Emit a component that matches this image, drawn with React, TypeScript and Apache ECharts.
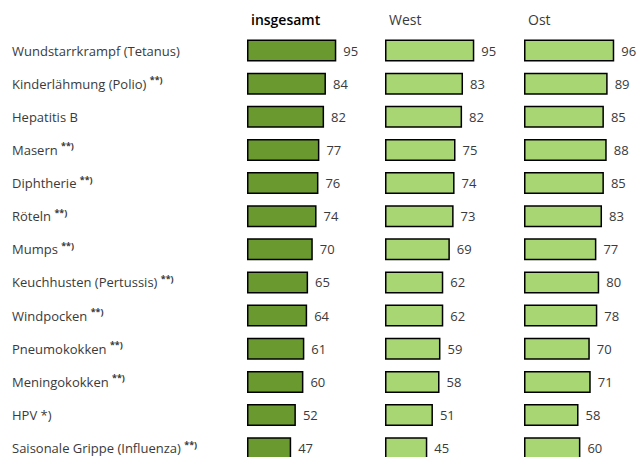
import React, { useEffect, useRef } from "react";
import * as echarts from "echarts";

const categories = [
  "Wundstarrkrampf (Tetanus)",
  "Kinderlähmung (Polio)",
  "Hepatitis B",
  "Masern",
  "Diphtherie",
  "Röteln",
  "Mumps",
  "Keuchhusten (Pertussis)",
  "Windpocken",
  "Pneumokokken",
  "Meningokokken",
  "HPV *)",
  "Saisonale Grippe (Influenza)",
];
const footnotes = ["", "**)", "", "**)", "**)", "**)", "**)", "**)", "**)", "**)", "**)", "", "**)"];
const insgesamt = [95, 84, 82, 77, 76, 74, 70, 65, 64, 61, 60, 52, 47];
const west = [95, 83, 82, 75, 74, 73, 69, 62, 62, 59, 58, 51, 45];
const ost = [96, 89, 85, 88, 85, 83, 77, 80, 78, 70, 71, 58, 60];
const headers = ["insgesamt", "West", "Ost"];

const FONT = "'Open Sans', sans-serif";
const TEXT = "#3a3a3a";

export default function App() {
  const ref = useRef<HTMLDivElement>(null);
  useEffect(() => {
    document.body.style.margin = "0";
    const chart = echarts.init(ref.current!, undefined, { renderer: "svg" });
    const lefts = [247, 385, 524];
    const seriesData = [insgesamt, west, ost];
    const colors = ["#6a9a2f", "#a8d672", "#a8d672"];
    const rowH = 33.14;
    const top = 50.5 - rowH / 2;
    const grids = lefts.map((l) => ({
      left: l,
      top,
      width: 94,
      height: rowH * categories.length,
      outerBoundsMode: "none",
      containLabel: false,
    }));
    const catLabels = categories.map((c, i) => (footnotes[i] ? `{a|${c} }{s|${footnotes[i]}}` : `{a|${c}}`));
    chart.setOption({
      animation: false,
      textStyle: { fontFamily: FONT },
      title: headers.map((h, i) => ({
        text: h,
        left: lefts[i] - 1,
        top: 7,
        textStyle: {
          fontFamily: FONT,
          fontSize: 14,
          fontWeight: i === 0 ? 600 : "normal",
          color: i === 0 ? "#000" : TEXT,
        },
      })),
      grid: grids,
      xAxis: lefts.map((_, i) => ({
        type: "value",
        gridIndex: i,
        min: 0,
        max: 100,
        show: false,
      })),
      yAxis: lefts.map((_, i) => ({
        type: "category",
        gridIndex: i,
        inverse: true,
        data: i === 0 ? catLabels : categories,
        axisLine: { show: false },
        axisTick: { show: false },
        axisLabel: i === 0
          ? {
              show: true,
              align: "left",
              margin: 235,
              rich: {
                a: { fontFamily: FONT, fontSize: 13, color: TEXT, lineHeight: 17 },
                s: { fontFamily: FONT, fontSize: 9, fontWeight: "bold", color: TEXT, verticalAlign: "top", lineHeight: 11 },
              },
            }
          : { show: false },
        splitLine: { show: false },
      })),
      series: seriesData.map((d, i) => ({
        type: "bar",
        xAxisIndex: i,
        yAxisIndex: i,
        data: d,
        barWidth: 22,
        itemStyle: { color: colors[i], borderColor: "#000", borderWidth: 1.5 },
        label: {
          show: true,
          position: "right",
          distance: 7,
          fontFamily: FONT,
          fontSize: 13,
          color: TEXT,
        },
      })),
    });
    return () => chart.dispose();
  }, []);
  return <div ref={ref} style={{ width: 638, height: 457 }} />;
}
